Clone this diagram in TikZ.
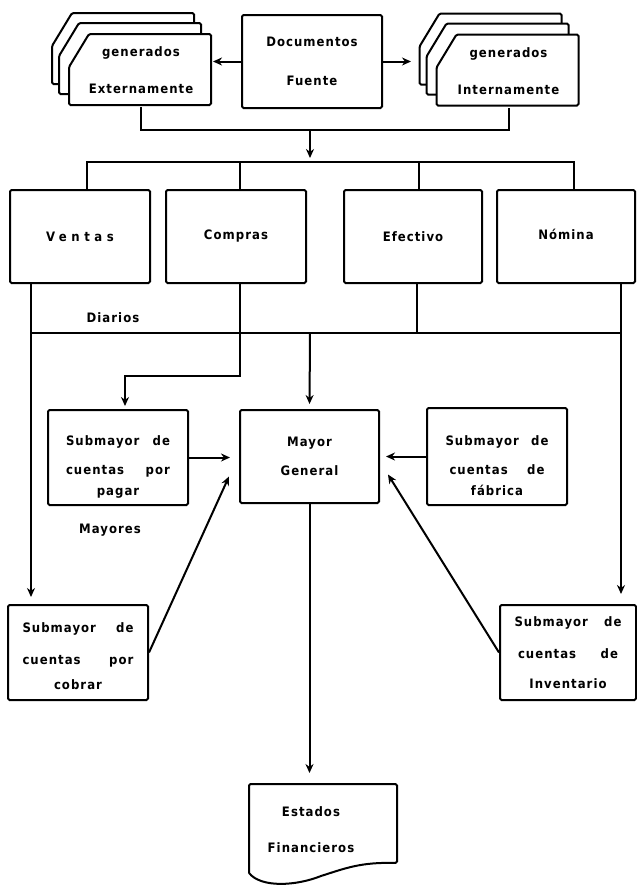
\documentclass[tikz,border=0pt]{standalone}
\usepackage{fontspec}
\setmainfont{DejaVu Sans Condensed}[LetterSpace=8]
\usepackage{tikz}
\usetikzlibrary{arrows.meta,calc,backgrounds}
\usetikzlibrary{positioning}

\newcommand{\repartir}[2][104pt]{\makebox[#1][s]{#2}}

\tikzset{
    caja/.style={draw, rounded corners=1.5pt, inner sep=0pt, align=center},
    hoja/.style={inner sep=0pt, minimum width=142pt, minimum height=71pt, align=center},
    borde/.style={draw, fill=white, line width=2pt, rounded corners=1.5pt},
    flecha/.style={-{Stealth[length=9pt,width=8pt]}},
}

\begin{document}
\begin{tikzpicture}[x=1pt, y=-1pt, line width=2pt, font=\fontsize{13}{15}\selectfont\bfseries]
\useasboundingbox (0,0) rectangle (637,886);

% documentos fuente
\node[caja, minimum width=140pt, minimum height=93pt] at (312,61.5) (doc) {Documentos\\[24pt]Fuente};
\node[hoja] at (141,70.5) (ext) {generados\\[22pt]Externamente};
\node[hoja] at (508.5,71) (int) {generados\\[22pt]Internamente};
\begin{scope}[on background layer]
    \foreach \hj in {ext, int}
        \foreach \dx/\dy in {-17/-21, -10/-11, 0/0}
            \draw[borde] ($(\hj.north west)+(\dx+20,\dy)$) -- ++(122,0) -- ++(0,71) -- ++(-142,0) -- ++(0,-38) -- cycle;
\end{scope}
\draw[flecha] (doc.west) -- (doc.west -| ext.east);
\draw[flecha] (doc.east) -- ++(28,0);

\coordinate (union) at (310,130);
\coordinate (reparto) at (310,162);
\draw (ext.south) -- (ext.south |- union) -- (int.south |- union) -- (int.south);
\draw[flecha] (union) -- ([yshift=4pt]reparto);

% diarios
\node[caja, minimum width=140pt, minimum height=93pt] at (80,236.5) (ventas) {\addfontfeature{LetterSpace=35}Ventas};
\node[caja, minimum width=140pt, minimum height=93pt] at (236,236.5) (compras) {Compras};
\node[caja, minimum width=138pt, minimum height=93pt] at (413,236.5) (efectivo) {Efectivo};
\node[caja, minimum width=138pt, minimum height=93pt] at (566,236.5) (nomina) {\raisebox{5pt}{Nómina}};

\draw ([xshift=7pt]ventas.north) -- ([xshift=7pt]ventas.north |- reparto) -- ([xshift=8pt]nomina.north |- reparto) -- ([xshift=8pt]nomina.north);
\draw ([xshift=4pt]compras.north) -- ([xshift=4pt]compras.north |- reparto);
\draw ([xshift=6pt]efectivo.north) -- ([xshift=6pt]efectivo.north |- reparto);

\node at (113,318) (diarios) {Diarios};

% mayores
\node[caja, minimum width=140pt, minimum height=95pt] at (118,457.5) (pagar) {\rule{0pt}{28pt}\repartir{Submayor de}\\[14pt]\repartir{cuentas por}\\[6pt]pagar};
\node[caja, minimum width=139pt, minimum height=93pt] at (309.5,456.5) (mayor) {Mayor\\[14pt]General};
\node[caja, minimum width=140pt, minimum height=97pt] at (497,456.5) (fabrica) {\rule{0pt}{28pt}\repartir[103pt]{Submayor de}\\[14pt]\repartir[95pt]{cuentas de}\\[6pt]fábrica};
\node[caja, minimum width=140pt, minimum height=95pt] at (78,652.5) (cobrar) {\rule{0pt}{18pt}\repartir[111pt]{Submayor de}\\[17pt]\repartir[111pt]{cuentas por}\\[10pt]cobrar};
\node[caja, minimum width=136pt, minimum height=95pt] at (568,652.5) (inventario) {\repartir[107pt]{Submayor de}\\[17pt]\repartir[100pt]{cuentas de}\\[15pt]Inventario};

\node at (110,530) (mayores) {Mayores};

\coordinate (diario) at (310,333);
\draw ([xshift=22pt]ventas.south west |- diario) -- ([xshift=-15pt]nomina.south east |- diario);
\draw ([xshift=4pt]efectivo.south) -- ([xshift=4pt]efectivo.south |- diario);
\draw[flecha, shorten >=7pt] ([xshift=22pt]ventas.south west) -- ([xshift=22pt]ventas.south west |- cobrar.north);
\draw[flecha, shorten >=10pt] ([xshift=-15pt]nomina.south east) -- ([xshift=-15pt]nomina.south east |- inventario.north);
\draw[flecha, shorten >=3pt] ([xshift=4pt]compras.south) -- ++(0,92) -| ([xshift=7pt]pagar.north);
\draw[flecha, shorten >=5pt] (diario) -- (mayor.north);

\draw[flecha, shorten >=9pt] (pagar.east) -- (pagar.east -| mayor.west);
\draw[flecha, shorten >=6pt] (fabrica.west) -- (fabrica.west -| mayor.east);
\draw[flecha] (cobrar.east) -- ([xshift=-10pt,yshift=-20pt]mayor.west);
\draw[flecha] (inventario.west) -- ([xshift=8pt,yshift=-18pt]mayor.east);

% estados financieros
\node[inner sep=0pt, align=center] at (311,830) (estados) {Estados\\[21pt]Financieros};
\draw[rounded corners=1.5pt] ($(estados)+(-62,43)$) -- ($(estados)+(-62,-46)$) -- ($(estados)+(86,-46)$) -- ($(estados)+(86,33)$)
    [sharp corners] .. controls ($(estados)+(50,32)$) and ($(estados)+(35,38)$) .. ($(estados)+(10,46)$)
    .. controls ($(estados)+(-15,56)$) and ($(estados)+(-50,58)$) .. ($(estados)+(-62,43)$);
\draw[flecha] (mayor.south) -- ($(mayor.south |- estados)+(0,-57)$);
\end{tikzpicture}
\end{document}
